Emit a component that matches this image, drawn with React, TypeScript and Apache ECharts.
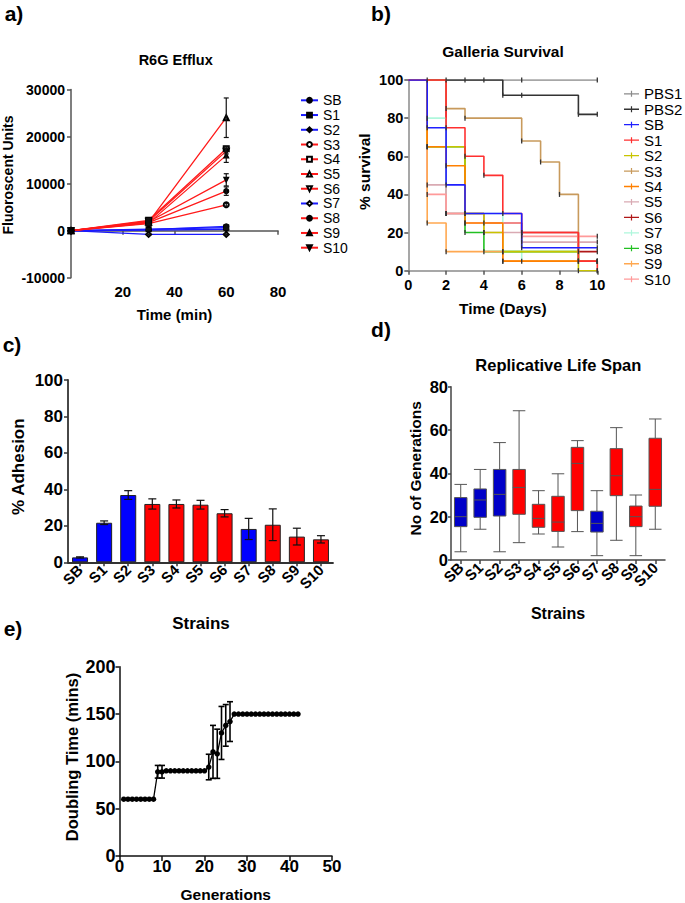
import React, { useEffect, useRef } from 'react';
import * as echarts from 'echarts';

const FONT = '"Liberation Sans", Arial, Helvetica, sans-serif';

// ---------- shared categories ----------
const STRAINS = ['SB', 'S1', 'S2', 'S3', 'S4', 'S5', 'S6', 'S7', 'S8', 'S9', 'S10'];
const BLUE_STRAINS = ['SB', 'S1', 'S2', 'S7'];

// ---------- panel a: R6G Efflux ----------
const EFFLUX_TIME = [0, 30, 60];
const EFFLUX_SB = [0, 200, 900];
const EFFLUX_S1 = [0, 300, 650];
const EFFLUX_S2 = [0, 100, 300];
const EFFLUX_S3 = [0, 1500, 5500];
const EFFLUX_S4 = [0, 2200, 17400];
const EFFLUX_S5 = [0, 1800, 24000];
const EFFLUX_S6 = [0, 2000, 16900];
const EFFLUX_S7 = [0, -800, -800];
const EFFLUX_S8 = [0, 1700, 8400];
const EFFLUX_S9 = [0, 1600, 16000];
const EFFLUX_S10 = [0, 1900, 10800];
const EFFLUX_ERR_30 = [100, 100, 100, 300, 400, 300, 300, 100, 300, 300, 300];
const EFFLUX_ERR_60 = [300, 300, 100, 300, 500, 4200, 600, 100, 900, 1500, 1300];
const EFFLUX_TICKS_Y = [-10000, 30000, 10000];
const EFFLUX_TICKS_X = [0, 80, 20];

// ---------- panel b: Galleria survival ----------
const SURV_NAMES = ['PBS1', 'PBS2', 'SB', 'S1', 'S2', 'S3', 'S4', 'S5', 'S6', 'S7', 'S8', 'S9', 'S10'];
const SURV_PBS1 = [[0, 100], [1, 100], [2, 100], [3, 100], [4, 100], [6, 100], [10, 100]];
const SURV_PBS2 = [[0, 100], [5, 92], [6, 92], [9, 82], [10, 82]];
const SURV_SB = [[0, 100], [1, 75], [2, 45], [3, 30], [6, 12], [10, 12]];
const SURV_S1 = [[0, 100], [2, 75], [3, 60], [4, 50], [5, 30], [6, 20], [9, 5], [10, 0]];
const SURV_S2 = [[0, 100], [1, 65], [3, 30], [4, 20], [5, 10], [9, 0], [10, 0]];
const SURV_S3 = [[0, 100], [2, 85], [3, 80], [6, 68], [7, 57], [8, 40], [9, 5], [10, 5]];
const SURV_S4 = [[0, 100], [1, 65], [2, 55], [3, 25], [5, 5], [10, 5]];
const SURV_S5 = [[0, 100], [1, 45], [2, 30], [4, 20], [6, 15], [10, 15]];
const SURV_S6 = [[0, 100], [2, 30], [4, 25], [6, 20], [9, 10], [10, 10]];
const SURV_S7 = [[0, 100], [1, 80], [2, 30], [5, 10], [6, 5], [10, 5]];
const SURV_S8 = [[0, 100], [1, 65], [3, 20], [4, 10], [9, 5], [10, 5]];
const SURV_S9 = [[0, 100], [1, 25], [2, 10], [5, 5], [10, 5]];
const SURV_S10 = [[0, 100], [1, 40], [2, 30], [3, 25], [6, 18], [10, 18]];

// ---------- panel c: adhesion ----------
const ADHESION = [2.7, 21.7, 36.9, 32, 32, 31.6, 26.9, 18.3, 20.6, 14.1, 12.6];
const ADHESION_ERR = [0.3, 1, 2.4, 2.8, 2.2, 2.4, 2, 5.8, 8.7, 4.6, 2];

// ---------- panel d: replicative life span ----------
const RLS_MIN = [3.8, 14.2, 3.8, 8, 12, 6, 13.1, 2, 9.1, 2, 14.2];
const RLS_Q1 = [15.4, 19.7, 20.3, 21.1, 15.1, 13.2, 22.8, 12.9, 29.7, 15.4, 24.8];
const RLS_MED = [20, 27.7, 30.3, 33.5, 19.2, 17.5, 44.6, 16.9, 38.9, 20, 32.6];
const RLS_Q3 = [28.8, 32.8, 41.8, 41.8, 25.7, 29.4, 52, 22.5, 51.4, 24.9, 56.2];
const RLS_MAX = [34.9, 41.8, 54.2, 68.9, 32, 39.8, 55.1, 32, 61.1, 30, 65.1];

// ---------- panel e: doubling time ----------
const DT_GEN = [1, 2, 3, 4, 5, 6, 7, 8, 9, 10, 11, 12, 13, 14, 15, 16, 17, 18, 19, 20, 21, 22, 23, 24, 25, 26, 27, 28, 29, 30, 31, 32, 33, 34, 35, 36, 37, 38, 39, 40, 41, 42];
const DT_VALUE = [60, 60, 60, 60, 60, 60, 60, 60, 89, 89, 90, 90, 90, 90, 90, 90, 90, 90, 90, 90, 94, 110, 108, 130, 138, 142, 150, 150, 150, 150, 150, 150, 150, 150, 150, 150, 150, 150, 150, 150, 150, 150];
const DT_ERR_GEN = [9, 10, 21, 22, 23, 24, 25, 26];
const DT_ERR = [6.7, 6.7, 13.5, 28, 26, 28, 22, 21];

// ---------- styles ----------
const EFFLUX_SYMBOL = ['circle', 'rect', 'diamond', 'emptyCircle', 'emptyRect', 'emptyTriangle', 'emptyTriangle', 'emptyDiamond', 'circle', 'triangle', 'triangle'];
const EFFLUX_ROTATE = [0, 0, 0, 0, 0, 0, 180, 0, 0, 0, 180];
const SURV_COLORS = ['#8a8a8a', '#333333', '#1f1fff', '#ff3030', '#c8c400', '#c89a5c', '#ff8000', '#d9aab3', '#b01818', '#aef7dc', '#22c022', '#ffa850', '#ff9a9a'];
const SURV_LEGEND_ICON = 'path://M0,3.35 L15,3.35 L15,4.65 L0,4.65 Z M6.9,1 L8.1,1 L8.1,7 L6.9,7 Z';

function errorBars(capHalf: number, color: string, width: number) {
  return (params: any, api: any) => {
    const x = api.value(0);
    const y = api.value(1);
    const e = api.value(2);
    const top = api.coord([x, y + e]);
    const bot = api.coord([x, y - e]);
    const style = { stroke: color, lineWidth: width, fill: 'none' };
    return {
      type: 'group',
      children: [
        { type: 'line', shape: { x1: top[0], y1: top[1], x2: bot[0], y2: bot[1] }, style },
        { type: 'line', shape: { x1: top[0] - capHalf, y1: top[1], x2: top[0] + capHalf, y2: top[1] }, style },
        { type: 'line', shape: { x1: bot[0] - capHalf, y1: bot[1], x2: bot[0] + capHalf, y2: bot[1] }, style },
      ],
    };
  };
}

function boldLabel(size: number, extra: any = {}) {
  return { color: '#000', fontWeight: 'bold', fontSize: size, fontFamily: FONT, ...extra };
}

function axisLine(color: string, width: number) {
  return { show: true, onZero: true, lineStyle: { color, width } };
}

function buildOption() {
  const effluxSeriesValues = [EFFLUX_SB, EFFLUX_S1, EFFLUX_S2, EFFLUX_S3, EFFLUX_S4, EFFLUX_S5, EFFLUX_S6, EFFLUX_S7, EFFLUX_S8, EFFLUX_S9, EFFLUX_S10];
  const survData = [SURV_PBS1, SURV_PBS2, SURV_SB, SURV_S1, SURV_S2, SURV_S3, SURV_S4, SURV_S5, SURV_S6, SURV_S7, SURV_S8, SURV_S9, SURV_S10];
  const survDrawOrder = [0, 1, 8, 9, 7, 12, 10, 4, 11, 6, 5, 3, 2];

  const series: any[] = [];

  // panel a lines (blue ones first, red ones on top)
  const effluxOrder = [0, 1, 2, 7, 3, 4, 5, 6, 8, 9, 10];
  effluxOrder.forEach((i) => {
    const name = STRAINS[i];
    const isBlue = BLUE_STRAINS.includes(name);
    series.push({
      type: 'line',
      name: 'a:' + name,
      xAxisIndex: 0,
      yAxisIndex: 0,
      data: EFFLUX_TIME.map((t, k) => [t, effluxSeriesValues[i][k]]),
      symbol: EFFLUX_SYMBOL[i],
      symbolRotate: EFFLUX_ROTATE[i],
      symbolSize: 5,
      showAllSymbol: true,
      lineStyle: { color: isBlue ? '#1a1aff' : '#ff1a1a', width: 1.3 },
      itemStyle: { color: '#000', borderColor: '#000', borderWidth: 1.1 },
      z: 2,
    });
  });
  const effluxErr: number[][] = [];
  STRAINS.forEach((_, i) => {
    effluxErr.push([EFFLUX_TIME[1], effluxSeriesValues[i][1], EFFLUX_ERR_30[i]]);
    effluxErr.push([EFFLUX_TIME[2], effluxSeriesValues[i][2], EFFLUX_ERR_60[i]]);
  });
  series.push({
    type: 'custom',
    name: 'a-err',
    xAxisIndex: 0,
    yAxisIndex: 0,
    data: effluxErr,
    renderItem: errorBars(2.5, '#111', 1.2),
    z: 3,
    silent: true,
  });

  // panel b survival step curves
  survDrawOrder.forEach((i) => {
    series.push({
      type: 'line',
      name: 'b:' + SURV_NAMES[i],
      xAxisIndex: 1,
      yAxisIndex: 1,
      step: 'end',
      data: survData[i].map((p, k) => (k === 0 ? { value: p, symbol: 'none' } : { value: p })),
      symbol: 'rect',
      symbolSize: [1.3, 5],
      showAllSymbol: true,
      lineStyle: { color: SURV_COLORS[i], width: 1.6 },
      itemStyle: { color: '#333' },
      z: 2,
    });
  });

  // panel c bars
  series.push({
    type: 'bar',
    name: 'c:adhesion',
    xAxisIndex: 2,
    yAxisIndex: 2,
    barWidth: 16,
    data: ADHESION.map((v, i) => ({
      value: v,
      itemStyle: { color: BLUE_STRAINS.includes(STRAINS[i]) ? '#0000ff' : '#ff0000' },
    })),
    itemStyle: { borderColor: '#222', borderWidth: 1 },
    z: 2,
  });
  series.push({
    type: 'custom',
    name: 'c-err',
    xAxisIndex: 2,
    yAxisIndex: 2,
    data: ADHESION.map((v, i) => [i, v, ADHESION_ERR[i]]),
    renderItem: errorBars(4, '#111', 1.2),
    z: 3,
    silent: true,
  });

  // panel d boxplot
  series.push({
    type: 'boxplot',
    name: 'd:rls',
    xAxisIndex: 3,
    yAxisIndex: 3,
    boxWidth: [12.5, 12.5],
    data: STRAINS.map((s, i) => ({
      value: [RLS_MIN[i], RLS_Q1[i], RLS_MED[i], RLS_Q3[i], RLS_MAX[i]],
      itemStyle: {
        color: BLUE_STRAINS.includes(s) ? '#0000c8' : '#ff0000',
        borderColor: '#555',
        borderWidth: 1,
      },
    })),
    z: 2,
  });

  // panel e doubling time
  series.push({
    type: 'line',
    name: 'e:dt',
    xAxisIndex: 4,
    yAxisIndex: 4,
    data: DT_GEN.map((g, i) => [g, DT_VALUE[i]]),
    symbol: 'circle',
    symbolSize: 5.5,
    showAllSymbol: true,
    lineStyle: { color: '#000', width: 1.3 },
    itemStyle: { color: '#000' },
    z: 2,
  });
  series.push({
    type: 'custom',
    name: 'e-err',
    xAxisIndex: 4,
    yAxisIndex: 4,
    data: DT_ERR_GEN.map((g, i) => [g, DT_VALUE[DT_GEN.indexOf(g)], DT_ERR[i]]),
    renderItem: errorBars(3, '#000', 1.6),
    z: 3,
    silent: true,
  });

  const txt = (text: string, x: number, y: number, size: number, extra: any = {}) => ({
    type: 'text',
    x,
    y,
    silent: true,
    ...extra,
    style: {
      text,
      fontSize: size,
      fontWeight: 'bold',
      fontFamily: FONT,
      fill: '#000',
      align: 'center',
      verticalAlign: 'middle',
    },
  });
  const vtxt = (text: string, x: number, y: number, size: number) =>
    txt(text, x, y, size, { rotation: Math.PI / 2 });

  return {
    animation: false,
    backgroundColor: '#ffffff',
    textStyle: { fontFamily: FONT },
    grid: [
      { left: 71, top: 89.5, width: 207, height: 188.2 },
      { left: 408.3, top: 80, width: 189, height: 190.7 },
      { left: 68, top: 380, width: 265, height: 182.3 },
      { left: 451, top: 386.7, width: 214, height: 173.3 },
      { left: 119.5, top: 666.7, width: 212.5, height: 190 },
    ],
    xAxis: [
      {
        type: 'value', gridIndex: 0, min: EFFLUX_TICKS_X[0], max: EFFLUX_TICKS_X[1], interval: EFFLUX_TICKS_X[2],
        name: 'Time (min)', nameLocation: 'middle', nameGap: 29.5,
        nameTextStyle: boldLabel(15),
        axisLine: axisLine('#555', 1.5),
        axisTick: { show: true, length: 4, lineStyle: { color: '#555', width: 1.5 } },
        axisLabel: boldLabel(15, { margin: 6, formatter: (v: number) => (v === 0 ? '' : String(v)) }),
        splitLine: { show: false },
      },
      {
        type: 'value', gridIndex: 1, min: 0, max: 10, interval: 2,
        name: 'Time (Days)', nameLocation: 'middle', nameGap: 30,
        nameTextStyle: boldLabel(15.5),
        axisLine: axisLine('#8a8a8a', 1.5),
        axisTick: { show: true, length: 4, lineStyle: { color: '#555', width: 1.5 } },
        axisLabel: boldLabel(14.5, { margin: 7, formatter: (v: number) => String(v) }),
        splitLine: { show: false },
      },
      {
        type: 'category', gridIndex: 2, data: STRAINS,
        axisLine: axisLine('#333', 1.8),
        axisTick: { show: true, alignWithLabel: true, length: 4, lineStyle: { color: '#333', width: 1.5 } },
        axisLabel: boldLabel(15, { rotate: 45, interval: 0, margin: 5 }),
      },
      {
        type: 'category', gridIndex: 3, data: STRAINS,
        name: 'Strains', nameLocation: 'middle', nameGap: 45,
        nameTextStyle: boldLabel(16),
        axisLine: axisLine('#444', 1.5),
        axisTick: { show: true, alignWithLabel: true, length: 4, lineStyle: { color: '#444', width: 1.5 } },
        axisLabel: boldLabel(15, { rotate: 45, interval: 0, margin: 5 }),
      },
      {
        type: 'value', gridIndex: 4, min: 0, max: 50, interval: 10,
        name: 'Generations', nameLocation: 'middle', nameGap: 30,
        nameTextStyle: boldLabel(15.5),
        axisLine: axisLine('#111', 1.5),
        axisTick: { show: true, length: 5, lineStyle: { color: '#111', width: 1.5 } },
        axisLabel: boldLabel(17, { margin: 2, formatter: (v: number) => String(v) }),
        splitLine: { show: false },
      },
    ],
    yAxis: [
      {
        type: 'value', gridIndex: 0, min: EFFLUX_TICKS_Y[0], max: EFFLUX_TICKS_Y[1], interval: EFFLUX_TICKS_Y[2],
        axisLine: axisLine('#555', 1.5),
        axisTick: { show: true, length: 4, lineStyle: { color: '#555', width: 1.5 } },
        axisLabel: boldLabel(14, { margin: 6, formatter: (v: number) => String(v) }),
        splitLine: { show: false },
      },
      {
        type: 'value', gridIndex: 1, min: 0, max: 100, interval: 20,
        axisLine: axisLine('#8a8a8a', 1.5),
        axisTick: { show: true, length: 4, lineStyle: { color: '#555', width: 1.5 } },
        axisLabel: boldLabel(14.5, { margin: 5, formatter: (v: number) => String(v) }),
        splitLine: { show: false },
      },
      {
        type: 'value', gridIndex: 2, min: 0, max: 100, interval: 20,
        axisLine: axisLine('#333', 1.8),
        axisTick: { show: true, length: 4, lineStyle: { color: '#333', width: 1.5 } },
        axisLabel: boldLabel(17, { margin: 5, formatter: (v: number) => String(v) }),
        splitLine: { show: false },
      },
      {
        type: 'value', gridIndex: 3, min: 0, max: 80, interval: 20,
        axisLine: axisLine('#444', 1.5),
        axisTick: { show: true, length: 3, lineStyle: { color: '#444', width: 1.5 } },
        axisLabel: boldLabel(16.5, { margin: 3, formatter: (v: number) => String(v) }),
        splitLine: { show: false },
      },
      {
        type: 'value', gridIndex: 4, min: 0, max: 200, interval: 50,
        axisLine: axisLine('#111', 1.5),
        axisTick: { show: true, length: 4, lineStyle: { color: '#111', width: 1.5 } },
        axisLabel: boldLabel(18, { margin: 4, formatter: (v: number) => String(v) }),
        splitLine: { show: false },
      },
    ],
    legend: [
      {
        orient: 'vertical',
        left: 300,
        top: 93.3,
        padding: 0,
        itemWidth: 17,
        itemHeight: 6,
        itemGap: 0.74,
        selectedMode: false,
        data: STRAINS.map((s) => 'a:' + s),
        formatter: (n: string) => n.slice(2),
        textStyle: { fontSize: 14, lineHeight: 12, color: '#000', fontFamily: FONT },
      },
      {
        orient: 'vertical',
        left: 624,
        top: 86.3,
        padding: 0,
        itemWidth: 15,
        itemHeight: 8,
        itemGap: 0.45,
        selectedMode: false,
        data: SURV_NAMES.map((s, i) => ({
          name: 'b:' + s,
          icon: SURV_LEGEND_ICON,
          itemStyle: { color: SURV_COLORS[i] },
        })),
        formatter: (n: string) => n.slice(2),
        textStyle: { fontSize: 15, lineHeight: 14, color: '#000', fontFamily: FONT },
      },
    ],
    graphic: [
      txt('a)', 14, 13, 21),
      txt('b)', 381, 13, 21),
      txt('c)', 12, 344, 21),
      txt('d)', 381, 329, 21),
      txt('e)', 13, 628, 21),
      txt('R6G Efflux', 175.7, 60, 14.5),
      txt('Galleria Survival', 503, 51.7, 15.5),
      txt('Replicative Life Span', 558.3, 365, 16.5),
      txt('Strains', 201, 623, 17),
      vtxt('Fluoroscent Units', 8, 175, 14),
      vtxt('% survival', 364, 171.7, 15.5),
      vtxt('% Adhesion', 18.5, 466.7, 17),
      vtxt('No of Generations', 415, 468.3, 15.5),
      vtxt('Doubling Time (mins)', 71.7, 757, 16.5),
    ],
    series,
  };
}

export default function App() {
  const ref = useRef<HTMLDivElement>(null);
  useEffect(() => {
    if (!ref.current) return;
    const chart = echarts.init(ref.current, undefined, { renderer: 'svg' });
    chart.setOption(buildOption() as any);
    return () => chart.dispose();
  }, []);
  return (
    <div
      ref={ref}
      style={{ position: 'absolute', left: 0, top: 0, width: 685, height: 903, background: '#fff' }}
    />
  );
}
